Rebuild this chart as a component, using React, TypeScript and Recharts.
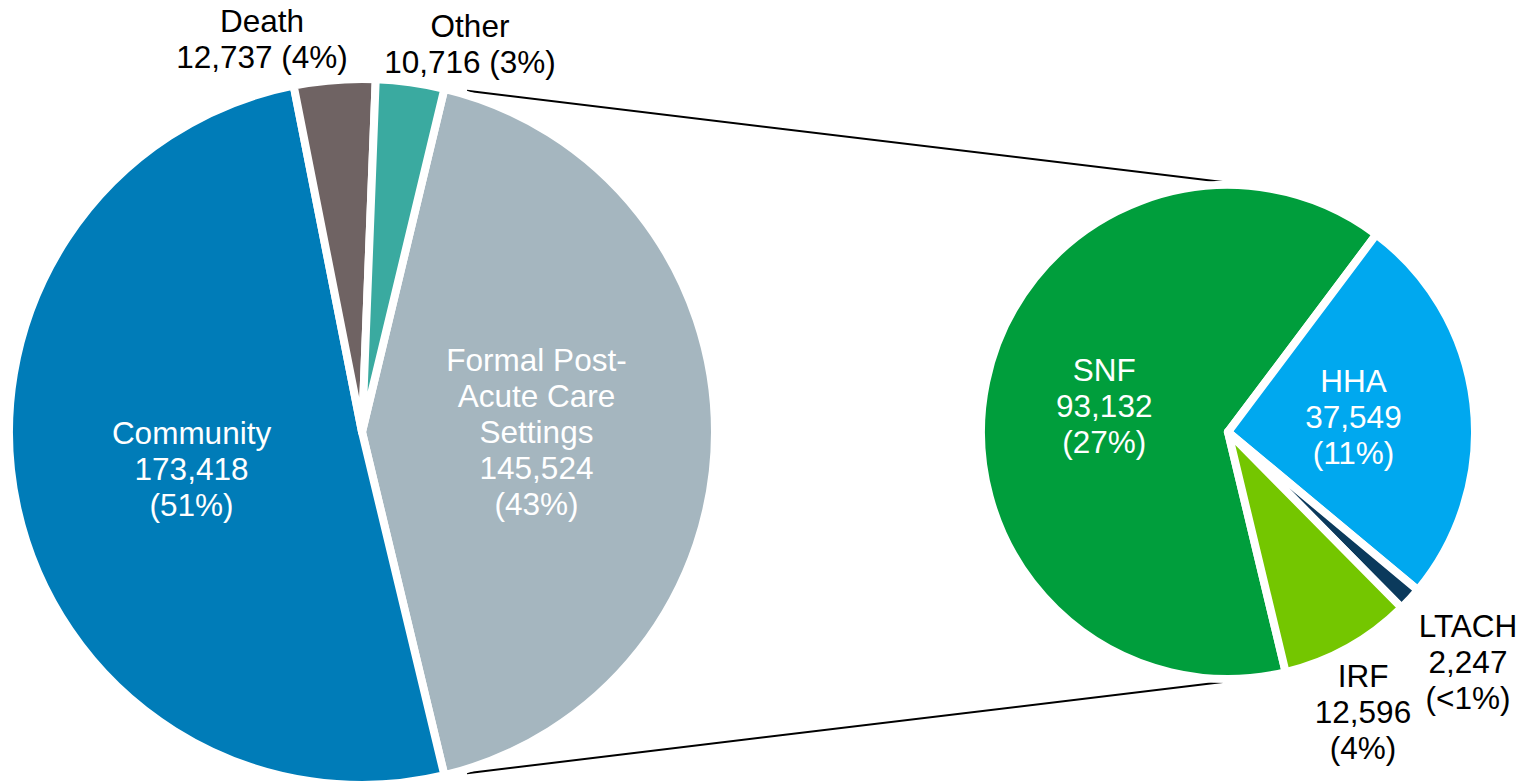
import { PieChart, Pie, Cell, Customized } from 'recharts';

// first plot (all discharges)
const LEFT_NAMES = ['Formal Post-Acute Care Settings', 'Community', 'Death', 'Other'];
const LEFT_VALUES = [145524, 173418, 12737, 10716];
const LEFT_COLORS = ['#a5b6bf', '#007cb8', '#6f6363', '#3aaaa0'];

// second plot (split of formal post-acute care)
const RIGHT_NAMES = ['SNF', 'HHA', 'LTACH', 'IRF'];
const RIGHT_VALUES = [93132, 37549, 2247, 12596];
const RIGHT_COLORS = ['#009e3c', '#00a8ef', '#0b3a5c', '#74c600'];

const GRAND_TOTAL = LEFT_VALUES.reduce((a, b) => a + b, 0);

const WIDTH = 1530;
const HEIGHT = 782;
const FONT = '"Liberation Sans", Arial, sans-serif';
const FONT_SIZE = 31.5;
const LINE_H = 36;
const GAP = 8; // white border between slices

const LEFT = { cx: 362, cy: 432, r: 349 };
const RIGHT = { cx: 1228, cy: 432, r: 243 };

// Formal slice is centred on 3 o'clock
const LEFT_START = (LEFT_VALUES[0] / GRAND_TOTAL) * 180;
const RIGHT_START = 360 - LEFT_START;

const fmt = (v: number) => v.toLocaleString('en-US');
const pct = (v: number) => {
  const p = (v / GRAND_TOTAL) * 100;
  return p < 1 ? '(<1%)' : `(${Math.round(p)}%)`;
};

// label layout: inside labels sit on the slice midline, outside ones use an offset from the pie centre
type LabelLayout = {
  lines: (name: string, value: number) => string[];
  inside?: number;
  offset?: [number, number];
  color: string;
};

const stacked = (name: string, value: number) => [name, fmt(value), pct(value)];
const twoLine = (name: string, value: number) => [name, `${fmt(value)} ${pct(value)}`];

const LABELS: Record<string, LabelLayout> = {
  'Formal Post-Acute Care Settings': {
    lines: (_n, v) => ['Formal Post-', 'Acute Care', 'Settings', fmt(v), pct(v)],
    inside: 0.5,
    color: '#fff',
  },
  Community: { lines: stacked, inside: 0.5, color: '#fff' },
  Death: { lines: twoLine, offset: [-100, -393], color: '#000' },
  Other: { lines: twoLine, offset: [108, -388], color: '#000' },
  SNF: { lines: stacked, inside: 0.52, color: '#fff' },
  HHA: { lines: stacked, inside: 0.52, color: '#fff' },
  LTACH: { lines: stacked, offset: [240, 230], color: '#000' },
  IRF: { lines: stacked, offset: [135, 280], color: '#000' },
};

const RAD = Math.PI / 180;
const polar = (cx: number, cy: number, r: number, a: number) => ({
  x: cx + r * Math.cos(-a * RAD),
  y: cy + r * Math.sin(-a * RAD),
});

function makeLabel(visibleR: number) {
  return (props: any) => {
    const { cx, cy, midAngle, name, value } = props;
    const layout = LABELS[name];
    if (!layout) return null;
    let x: number;
    let y: number;
    if (layout.inside) {
      const p = polar(cx, cy, visibleR * layout.inside, midAngle);
      x = p.x;
      y = p.y;
    } else {
      x = cx + layout.offset![0];
      y = cy + layout.offset![1];
    }
    const lines = layout.lines(name, value);
    const n = lines.length;
    return (
      <text
        key={`lbl-${name}`}
        textAnchor="middle"
        fill={layout.color}
        fontSize={FONT_SIZE}
        fontFamily={FONT}
      >
        {lines.map((t, i) => (
          <tspan key={i} x={x} y={y + (i - (n - 1) / 2) * LINE_H + 0.35 * FONT_SIZE}>
            {t}
          </tspan>
        ))}
      </text>
    );
  };
}

// series lines between the formal slice and the second pie
function ConnectorLines() {
  const a = LEFT_START - 3.6;
  const s1 = polar(LEFT.cx, LEFT.cy, LEFT.r + 8, a);
  const s2 = polar(LEFT.cx, LEFT.cy, LEFT.r + 8, -a);
  const e1 = polar(RIGHT.cx, RIGHT.cy, RIGHT.r + 7, 91.2);
  const e2 = polar(RIGHT.cx, RIGHT.cy, RIGHT.r + 7, -91.2);
  return (
    <g>
      <line x1={s1.x} y1={s1.y} x2={e1.x} y2={e1.y} stroke="#000" strokeWidth={2} />
      <line x1={s2.x} y1={s2.y} x2={e2.x} y2={e2.y} stroke="#000" strokeWidth={2} />
    </g>
  );
}

export default function App() {
  const leftData = LEFT_NAMES.map((name, i) => ({ name, value: LEFT_VALUES[i] }));
  const rightData = RIGHT_NAMES.map((name, i) => ({ name, value: RIGHT_VALUES[i] }));

  return (
    <div style={{ position: 'absolute', left: 0, top: 0, width: WIDTH, height: HEIGHT, background: '#fff' }}>
      <PieChart width={WIDTH} height={HEIGHT} margin={{ top: 0, right: 0, bottom: 0, left: 0 }}>
        <Customized component={ConnectorLines} />
        <Pie
          data={leftData}
          dataKey="value"
          nameKey="name"
          cx={LEFT.cx}
          cy={LEFT.cy}
          outerRadius={LEFT.r + GAP / 2}
          startAngle={LEFT_START}
          endAngle={LEFT_START - 360}
          stroke="#fff"
          strokeWidth={GAP}
          strokeLinejoin="round"
          label={makeLabel(LEFT.r)}
          labelLine={false}
          isAnimationActive={false}
        >
          {leftData.map((d, i) => (
            <Cell key={d.name} fill={LEFT_COLORS[i]} strokeLinejoin="round" />
          ))}
        </Pie>
        <Pie
          data={rightData}
          dataKey="value"
          nameKey="name"
          cx={RIGHT.cx}
          cy={RIGHT.cy}
          outerRadius={RIGHT.r + GAP / 2}
          startAngle={RIGHT_START}
          endAngle={RIGHT_START - 360}
          stroke="#fff"
          strokeWidth={GAP}
          strokeLinejoin="round"
          label={makeLabel(RIGHT.r)}
          labelLine={false}
          isAnimationActive={false}
        >
          {rightData.map((d, i) => (
            <Cell key={d.name} fill={RIGHT_COLORS[i]} strokeLinejoin="round" />
          ))}
        </Pie>
      </PieChart>
    </div>
  );
}
